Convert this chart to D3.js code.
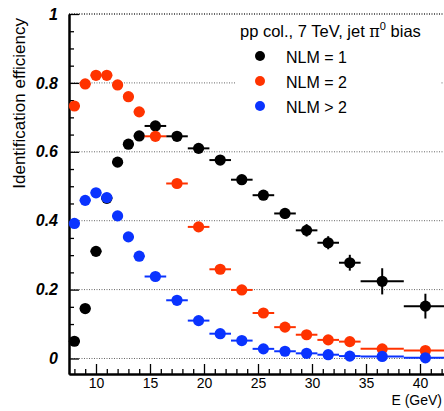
<!DOCTYPE html>
<html><head><meta charset="utf-8">
<script src="https://cdn.jsdelivr.net/npm/d3@7"></script>
<style>body{margin:0;background:#fff}svg{display:block;font-family:"Liberation Sans",Arial,sans-serif}</style>
</head><body><svg id="c" width="444" height="411"></svg>
<script>
const energy = [8,9,10,11,12,13,14,15.5,17.5,19.5,21.5,23.5,25.5,27.5,29.5,31.5,33.5,36.5,40.5];
const halfWidth = [0.5,0.5,0.5,0.5,0.5,0.5,0.5,1,1,1,1,1,1,1,1,1,1,2,2];
const nlm1 = [0.050,0.145,0.311,0.465,0.570,0.622,0.646,0.675,0.645,0.610,0.576,0.519,0.474,0.421,0.372,0.336,0.278,0.224,0.152];
const nlm1Err = [0.004,0.006,0.008,0.008,0.008,0.008,0.008,0.008,0.008,0.009,0.010,0.011,0.012,0.015,0.018,0.019,0.023,0.038,0.036];
const nlm2 = [0.733,0.797,0.822,0.822,0.794,0.760,0.716,0.645,0.508,0.382,0.259,0.199,0.132,0.091,0.069,0.054,0.049,0.028,0.023];
const nlm2Err = [0.005,0.005,0.005,0.005,0.005,0.005,0.005,0.005,0.006,0.006,0.006,0.006,0.006,0.006,0.006,0.006,0.007,0.008,0.009];
const nlm3 = [0.392,0.459,0.481,0.467,0.414,0.353,0.297,0.238,0.169,0.110,0.072,0.052,0.028,0.021,0.015,0.011,0.007,0.006,0.002];
const nlm3Err = [0.005,0.005,0.005,0.005,0.005,0.005,0.005,0.005,0.004,0.004,0.004,0.003,0.003,0.003,0.003,0.003,0.003,0.003,0.003];
const seriesNames = ["NLM = 1","NLM = 2","NLM > 2"];
const seriesColors = ["#000000","#ff3300","#0a33ff"];
const yTicks = [0,0.2,0.4,0.6,0.8,1];
const xTicks = [10,15,20,25,30,35,40];
const legendTitle = "pp col., 7 TeV, jet ";

const svg = d3.select("#c");
const x = d3.scaleLinear().domain([7.5,42.5]).range([69,447]);
const y = d3.scaleLinear().domain([-0.045,1]).range([374,14]);

// grid
svg.append("g").selectAll("line").data(yTicks).join("line")
  .attr("x1",69).attr("x2",444).attr("y1",d=>y(d)).attr("y2",d=>y(d))
  .attr("stroke",d=>d===1?"#333":"#666").attr("stroke-width",d=>d===1?1.6:1)
  .attr("stroke-dasharray","1,1.5");

// axes
const minorX = d3.range(8,43,1).filter(v=>v%5!==0);
const minorY = d3.range(-0.0,1.0001,0.05).map(v=>+v.toFixed(2)).filter(v=>Math.abs(v*5-Math.round(v*5))>1e-6);
const gx = svg.append("g").attr("transform","translate(0,374)");
gx.call(d3.axisBottom(x).tickValues(minorX).tickSizeInner(-5).tickSizeOuter(0).tickFormat(""));
gx.append("g").call(d3.axisBottom(x).tickValues(xTicks).tickSizeInner(-10).tickSizeOuter(0).tickFormat(d3.format("d")));
gx.selectAll("path.domain").attr("stroke","#000").attr("stroke-width",2);
gx.selectAll(".tick line").attr("stroke","#000").attr("stroke-width",1.3);
gx.selectAll(".tick text").attr("font-size",14).attr("font-family","Liberation Sans, Arial, sans-serif").attr("fill","#000").attr("y",16).attr("dy","0.71em").attr("transform","translate(0,-12)");

const gy = svg.append("g").attr("transform","translate(69,0)");
gy.call(d3.axisLeft(y).tickValues(minorY).tickSizeInner(-5).tickSizeOuter(0).tickFormat(""));
gy.append("g").call(d3.axisLeft(y).tickValues(yTicks).tickSizeInner(-10).tickSizeOuter(0).tickFormat(d=>d3.format("")(d)));
gy.selectAll("path.domain").attr("stroke","#000").attr("stroke-width",2);
gy.selectAll(".tick line").attr("stroke","#000").attr("stroke-width",1.3);
gy.selectAll(".tick text").attr("font-size",16).attr("font-weight","bold").attr("font-style","italic")
  .attr("font-family","Liberation Sans, Arial, sans-serif").attr("fill","#000").attr("x",-11);

// titles
svg.append("text").attr("transform","translate(25,18) rotate(-90)").attr("text-anchor","end")
  .attr("font-size",17).text("Identification efficiency");
svg.append("text").attr("x",442).attr("y",405).attr("text-anchor","end").attr("font-size",14).text("E (GeV)");

// data
const all = [[nlm1,nlm1Err],[nlm2,nlm2Err],[nlm3,nlm3Err]];
all.forEach(([vals,errs],si)=>{
  const g = svg.append("g");
  const col = seriesColors[si];
  const pts = energy.map((e,i)=>({e,hw:halfWidth[i],v:vals[i],er:errs[i]}));
  g.selectAll("line.h").data(pts).join("line").attr("class","h")
    .attr("x1",d=>x(d.e-d.hw)).attr("x2",d=>Math.min(x(d.e+d.hw),444)).attr("y1",d=>y(d.v)).attr("y2",d=>y(d.v))
    .attr("stroke",col).attr("stroke-width",2);
  g.selectAll("line.v").data(pts).join("line").attr("class","v")
    .attr("x1",d=>x(d.e)).attr("x2",d=>x(d.e)).attr("y1",d=>y(d.v-d.er)).attr("y2",d=>y(d.v+d.er))
    .attr("stroke",col).attr("stroke-width",2);
  g.selectAll("circle").data(pts).join("circle")
    .attr("cx",d=>x(d.e)).attr("cy",d=>y(d.v)).attr("r",5.6).attr("fill",col);
});

// legend
const lg = svg.append("g");
lg.append("rect").attr("x",236).attr("y",16).attr("width",204).attr("height",102).attr("fill","#fff");
const t = lg.append("text").attr("x",240).attr("y",37).attr("font-size",16.5);
t.append("tspan").text(legendTitle);
t.append("tspan").attr("font-family","DejaVu Serif, serif").attr("font-size",16).text("\u03c0");
t.append("tspan").attr("font-size",11).attr("dy",-7).text("0");
t.append("tspan").attr("dy",7).text(" bias");
seriesNames.forEach((n,i)=>{
  const cy = 56 + i*25;
  lg.append("circle").attr("cx",260).attr("cy",cy).attr("r",5).attr("fill",seriesColors[i]);
  lg.append("text").attr("x",286).attr("y",cy+6.5).attr("font-size",16).text(n);
});
</script></body></html>
